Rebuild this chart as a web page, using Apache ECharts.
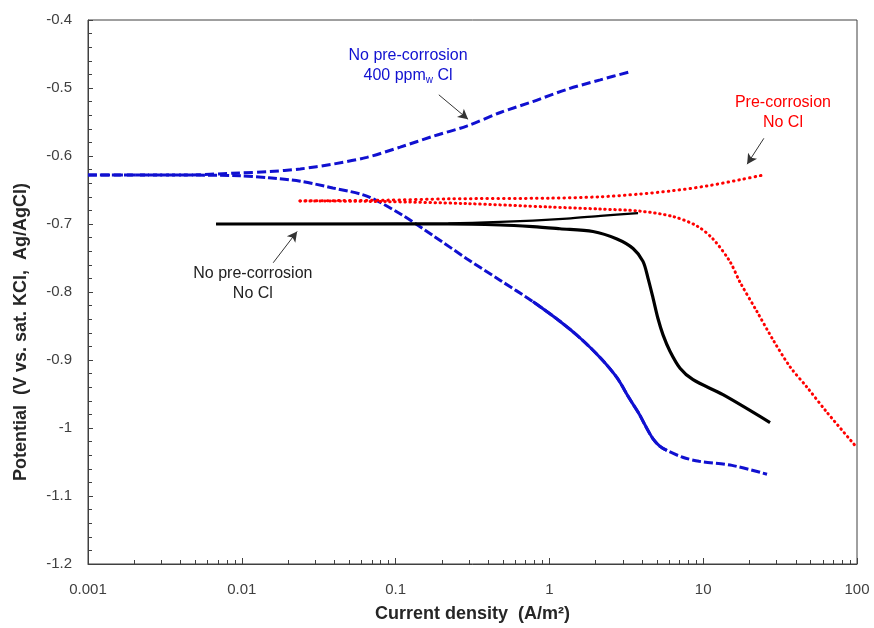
<!DOCTYPE html>
<html>
<head>
<meta charset="utf-8">
<script src="https://cdn.jsdelivr.net/npm/echarts@6/dist/echarts.min.js"></script>
<style>
  html, body { margin: 0; padding: 0; background: #fff; }
  #chart { width: 874px; height: 628px; }
</style>
</head>
<body>
<div id="chart"></div>
<script>
// Polarisation curves: anodic / cathodic branch per sample
const xDecades = [0.001, 0.01, 0.1, 1, 10, 100];

// No pre-corrosion, 400 ppmw Cl (blue dashed)
const blueAnodicX = [0.001, 0.004, 0.0097, 0.015, 0.024, 0.039, 0.065, 0.107, 0.175, 0.29, 0.48, 0.78, 1.3, 2.14, 3.35];
const blueAnodicY = [-0.628, -0.628, -0.625, -0.623, -0.619, -0.612, -0.602, -0.587, -0.571, -0.556, -0.536, -0.520, -0.502, -0.488, -0.476];
const blueCathodicX = [0.001, 0.004, 0.0097, 0.015, 0.024, 0.039, 0.065, 0.107, 0.175, 0.29, 0.48, 0.78, 1.17, 1.59, 2.15, 2.75, 3.3, 3.85, 4.17, 4.72, 5.24, 5.8, 7.35, 9.4, 15.4, 26];
const blueCathodicY = [-0.628, -0.628, -0.629, -0.632, -0.637, -0.647, -0.659, -0.685, -0.717, -0.751, -0.783, -0.814, -0.843, -0.868, -0.897, -0.926, -0.956, -0.980, -0.995, -1.016, -1.027, -1.033, -1.043, -1.049, -1.055, -1.068];
// the measured points are dense (line looks solid) between these two indices
const blueSolidFrom = 11, blueSolidTo = 21;

// Pre-corrosion, no Cl (red dotted)
const redAnodicX = [0.0239, 0.083, 0.225, 1.0, 2.13, 3.85, 6.36, 10.6, 17.3, 24.5];
const redAnodicY = [-0.666, -0.665, -0.663, -0.662, -0.660, -0.656, -0.651, -0.644, -0.635, -0.628];
const redCathodicX = [0.0239, 0.083, 0.29, 1.0, 2.13, 3.85, 6.36, 9.12, 11.58, 14.9, 17.3, 22.4, 28.4, 36.7, 47.3, 63.8, 100];
const redCathodicY = [-0.666, -0.667, -0.670, -0.675, -0.678, -0.681, -0.689, -0.703, -0.722, -0.755, -0.785, -0.829, -0.870, -0.910, -0.940, -0.977, -1.029];

// No pre-corrosion, no Cl (black solid)
const blackAnodicX = [0.0068, 0.22, 0.48, 1.3, 2.15, 3.77];
const blackAnodicY = [-0.700, -0.699, -0.697, -0.692, -0.688, -0.684];
const blackCathodicX = [0.0068, 0.22, 0.48, 0.78, 1.17, 1.92, 2.75, 3.5, 4.06, 4.38, 4.72, 5.08, 5.48, 6.08, 7.07, 8.59, 13.45, 27.2];
const blackCathodicY = [-0.700, -0.700, -0.7015, -0.704, -0.707, -0.711, -0.722, -0.736, -0.755, -0.780, -0.809, -0.839, -0.863, -0.887, -0.912, -0.929, -0.951, -0.992];

const FONT = '"Liberation Sans", Arial, sans-serif';
const BLUE = '#1010d0';
const RED = '#ff0000';
const AXIS = '#404040';

const zip = (xs, ys) => xs.map((x, i) => [x, ys[i]]);

// log minor ticks 2..9 in each decade
const minorTicks = [];
xDecades.slice(0, -1).forEach(d => {
  for (let k = 1; k <= 10; k++) minorTicks.push(+(d * k).toPrecision(3));
});

function note(coord, text, color, rich) {
  return {
    symbol: 'rect',
    symbolSize: 1,
    silent: true,
    itemStyle: { color: 'rgba(0,0,0,0)' },
    label: {
      show: true, position: 'inside', formatter: text,
      color: color, fontSize: 16, lineHeight: 20, fontFamily: FONT, align: 'center',
      rich: rich || {}
    },
    data: [{ coord: coord }]
  };
}

function arrow(from, to) {
  return {
    silent: true,
    symbol: ['none', 'arrow'],
    symbolSize: [8, 10],
    label: { show: false },
    lineStyle: { color: '#333', width: 1, type: 'solid' },
    data: [[{ coord: from }, { coord: to }]]
  };
}

function curve(name, data, color, style, extra) {
  return Object.assign({
    name: name,
    type: 'line',
    data: data,
    showSymbol: false,
    smooth: 0.3,
    lineStyle: Object.assign({ color: color }, style),
    z: 3
  }, extra || {});
}

const blueCath = zip(blueCathodicX, blueCathodicY);

const chart = echarts.init(document.getElementById('chart'));
chart.setOption({
  animation: false,
  grid: { left: 88, right: 17, top: 20, bottom: 61, show: true, borderColor: AXIS, borderWidth: 1 },
  xAxis: [{
    type: 'log', logBase: 10, min: 0.001, max: 100,
    name: 'Current density  (A/m²)', nameLocation: 'middle', nameGap: 41,
    nameTextStyle: { fontFamily: FONT, fontWeight: 'bold', fontSize: 18, color: '#262626' },
    axisLine: { lineStyle: { color: AXIS } },
    axisTick: { inside: true, length: 6, lineStyle: { color: AXIS } },
    axisLabel: {
      margin: 18, fontFamily: FONT, fontSize: 15, color: AXIS,
      formatter: v => xDecades.some(d => Math.abs(d - v) / d < 1e-6) ? String(+v.toPrecision(3)) : ''
    },
    splitLine: { show: false }
  }, {
    type: 'log', logBase: 10, min: 0.001, max: 100, position: 'bottom',
    axisLine: { show: false },
    axisTick: { inside: true, length: 4, customValues: minorTicks, lineStyle: { color: AXIS } },
    axisLabel: { show: false },
    splitLine: { show: false }
  }],
  yAxis: {
    type: 'value', min: -1.2, max: -0.4, interval: 0.1,
    name: 'Potential  (V vs. sat. KCl,  Ag/AgCl)', nameLocation: 'middle', nameGap: 58,
    nameTextStyle: { fontFamily: FONT, fontWeight: 'bold', fontSize: 18, color: '#262626', padding: [0, 80, 0, 0] },
    axisLine: { show: true, lineStyle: { color: AXIS } },
    axisTick: { show: true, inside: true, length: 5, lineStyle: { color: AXIS } },
    minorTick: { show: true, splitNumber: 5, length: 4, lineStyle: { color: AXIS } },
    axisLabel: { margin: 16, fontFamily: FONT, fontSize: 15, color: AXIS },
    splitLine: { show: false }
  },
  series: [
    curve('blue-anodic', zip(blueAnodicX, blueAnodicY), BLUE, { width: 3, type: [9, 4] }, {
      markLine: arrow([0.191, -0.510], [0.296, -0.546]),
      markPoint: note([0.1205, -0.467], 'No pre-corrosion\n400 ppm{sub|w} Cl', BLUE, {
        sub: { fontSize: 10, color: BLUE, fontFamily: FONT, verticalAlign: 'bottom', padding: [9, 0, 0, 0] }
      })
    }),
    // full cathodic branch dashed, dense middle part drawn solid on top
    curve('blue-cathodic', blueCath, BLUE, { width: 3, type: [9, 3] }),
    curve('blue-cathodic-dense', blueCath.slice(blueSolidFrom, blueSolidTo + 1), BLUE, { width: 3 }, { z: 4 }),
    curve('red-anodic', zip(redAnodicX, redAnodicY), RED, { width: 3, type: [0.5, 5], cap: 'round' }, {
      markLine: arrow([24.8, -0.574], [19.3, -0.612]),
      markPoint: note([33, -0.536], 'Pre-corrosion\nNo Cl', RED)
    }),
    curve('red-cathodic', zip(redCathodicX, redCathodicY), RED, { width: 3, type: [0.5, 4.5], cap: 'round' }),
    curve('black-anodic', zip(blackAnodicX, blackAnodicY), '#000', { width: 2.2 }, {
      markLine: arrow([0.016, -0.757], [0.0229, -0.711]),
      markPoint: note([0.0118, -0.787], 'No pre-corrosion\nNo Cl', '#222')
    }),
    curve('black-cathodic', zip(blackCathodicX, blackCathodicY), '#000', { width: 3.2 })
  ]
});
window.addEventListener('resize', () => chart.resize());
</script>
</body>
</html>
